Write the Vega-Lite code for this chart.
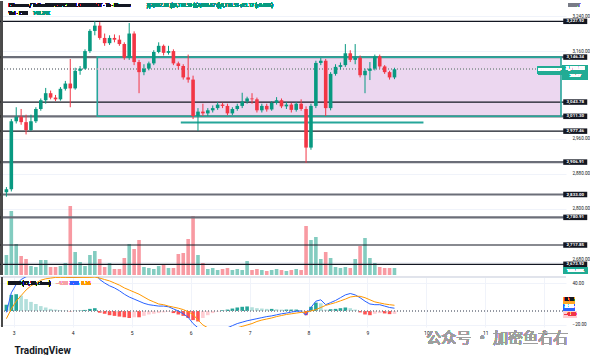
{
"$schema":"https://vega.github.io/schema/vega-lite/v6.json",
"padding":{"left":-6,"top":0,"right":0,"bottom":0},
"background":"white",
"config":{"font":"Roboto, 'Noto Sans CJK SC', sans-serif","view":{"stroke":null}},
"datasets":{
"bars":[
{"t":-3,"o":2838,"h":2850,"l":2828,"c":2845,"v":402,"m":-2,"s":-11,"hg":9},
{"t":-1,"o":2845,"h":3005,"l":2840,"c":3000,"v":1286,"m":26,"s":3,"hg":23},
{"t":1,"o":3000,"h":3032,"l":2995,"c":3010,"v":623,"m":38,"s":14,"hg":24},
{"t":3,"o":3010,"h":3028,"l":2992,"c":2998,"v":382,"m":45,"s":22,"hg":22},
{"t":5,"o":2998,"h":3015,"l":2970,"c":2980,"v":322,"m":49,"s":30,"hg":17},
{"t":7,"o":2980,"h":3015,"l":2978,"c":3000,"v":181,"m":51,"s":36,"hg":13},
{"t":9,"o":3000,"h":3032,"l":2996,"c":3028,"v":161,"m":52,"s":40,"hg":10},
{"t":11,"o":3028,"h":3052,"l":3024,"c":3048,"v":302,"m":53,"s":44,"hg":7},
{"t":13,"o":3048,"h":3076,"l":3040,"c":3064,"v":302,"m":53,"s":46,"hg":5},
{"t":15,"o":3064,"h":3070,"l":3050,"c":3054,"v":161,"m":52,"s":47,"hg":3},
{"t":17,"o":3054,"h":3060,"l":3046,"c":3050,"v":161,"m":51,"s":48,"hg":2},
{"t":19,"o":3050,"h":3078,"l":3047,"c":3074,"v":181,"m":50,"s":48,"hg":1},
{"t":21,"o":3074,"h":3092,"l":3070,"c":3086,"v":241,"m":49,"s":48,"hg":0.5},
{"t":23,"o":3086,"h":3142,"l":3032,"c":3075,"v":1387,"m":48,"s":48,"hg":-0.5},
{"t":25,"o":3075,"h":3122,"l":3072,"c":3115,"v":462,"m":48,"s":48,"hg":0.3},
{"t":27,"o":3115,"h":3126,"l":3106,"c":3120,"v":261,"m":48.5,"s":48,"hg":0.6},
{"t":29,"o":3120,"h":3164,"l":3118,"c":3160,"v":181,"m":50,"s":48,"hg":1.5},
{"t":31,"o":3160,"h":3210,"l":3156,"c":3206,"v":402,"m":53,"s":48,"hg":3},
{"t":33,"o":3206,"h":3228,"l":3196,"c":3218,"v":482,"m":55,"s":48.5,"hg":4},
{"t":35,"o":3218,"h":3226,"l":3186,"c":3190,"v":322,"m":45,"s":47,"hg":-2.5},
{"t":37,"o":3190,"h":3200,"l":3172,"c":3178,"v":161,"m":40,"s":45,"hg":-4},
{"t":39,"o":3178,"h":3196,"l":3174,"c":3190,"v":241,"m":36,"s":43,"hg":-6},
{"t":41,"o":3190,"h":3198,"l":3180,"c":3186,"v":121,"m":33,"s":40,"hg":-7},
{"t":43,"o":3186,"h":3196,"l":3172,"c":3176,"v":121,"m":29,"s":37,"hg":-8},
{"t":45,"o":3176,"h":3180,"l":3140,"c":3145,"v":342,"m":24,"s":33,"hg":-9},
{"t":47,"o":3145,"h":3224,"l":3140,"c":3200,"v":623,"m":20,"s":30,"hg":-10},
{"t":49,"o":3200,"h":3205,"l":3128,"c":3135,"v":523,"m":17,"s":27,"hg":-9},
{"t":51,"o":3135,"h":3140,"l":3064,"c":3112,"v":704,"m":14,"s":24,"hg":-9},
{"t":53,"o":3112,"h":3130,"l":3105,"c":3120,"v":161,"m":11,"s":20,"hg":-7},
{"t":55,"o":3120,"h":3136,"l":3116,"c":3132,"v":141,"m":9,"s":16,"hg":-5},
{"t":57,"o":3132,"h":3162,"l":3128,"c":3158,"v":121,"m":8,"s":13,"hg":-4},
{"t":59,"o":3158,"h":3180,"l":3155,"c":3172,"v":181,"m":7,"s":10,"hg":-3},
{"t":61,"o":3172,"h":3175,"l":3150,"c":3156,"v":201,"m":7,"s":9,"hg":-2},
{"t":63,"o":3156,"h":3172,"l":3152,"c":3160,"v":141,"m":6,"s":7,"hg":-1},
{"t":65,"o":3160,"h":3164,"l":3128,"c":3132,"v":141,"m":3,"s":5.5,"hg":-3},
{"t":67,"o":3132,"h":3136,"l":3118,"c":3126,"v":422,"m":0,"s":4,"hg":-5},
{"t":69,"o":3126,"h":3130,"l":3095,"c":3100,"v":442,"m":-4,"s":2,"hg":-7},
{"t":71,"o":3100,"h":3152,"l":3088,"c":3095,"v":724,"m":-9,"s":-1,"hg":-10},
{"t":73,"o":3095,"h":3104,"l":3005,"c":3012,"v":1186,"m":-18,"s":-5,"hg":-13},
{"t":75,"o":3012,"h":3030,"l":2978,"c":3022,"v":402,"m":-24,"s":-13,"hg":-15},
{"t":77,"o":3022,"h":3040,"l":3012,"c":3018,"v":241,"m":-27,"s":-20,"hg":-10},
{"t":79,"o":3018,"h":3030,"l":3012,"c":3025,"v":121,"m":-28,"s":-24,"hg":-6},
{"t":81,"o":3025,"h":3036,"l":3020,"c":3030,"v":141,"m":-28,"s":-26,"hg":-3},
{"t":83,"o":3030,"h":3044,"l":3026,"c":3038,"v":100,"m":-27,"s":-27,"hg":-1},
{"t":85,"o":3038,"h":3042,"l":3030,"c":3035,"v":121,"m":-26,"s":-27,"hg":1},
{"t":87,"o":3035,"h":3040,"l":3014,"c":3018,"v":141,"m":-24,"s":-26,"hg":2},
{"t":89,"o":3018,"h":3032,"l":3014,"c":3028,"v":100,"m":-21,"s":-25,"hg":3.5},
{"t":91,"o":3028,"h":3040,"l":3024,"c":3035,"v":121,"m":-18,"s":-24,"hg":5},
{"t":93,"o":3035,"h":3065,"l":3030,"c":3045,"v":100,"m":-16,"s":-22,"hg":6},
{"t":95,"o":3045,"h":3056,"l":3040,"c":3052,"v":281,"m":-14,"s":-20,"hg":6.5},
{"t":97,"o":3052,"h":3064,"l":3040,"c":3050,"v":100,"m":-12.5,"s":-18,"hg":5.5},
{"t":99,"o":3050,"h":3054,"l":3020,"c":3025,"v":121,"m":-11,"s":-15,"hg":4},
{"t":101,"o":3025,"h":3040,"l":3020,"c":3035,"v":100,"m":-9.5,"s":-13,"hg":3.5},
{"t":103,"o":3035,"h":3040,"l":3022,"c":3027,"v":80,"m":-8,"s":-11.5,"hg":3},
{"t":105,"o":3027,"h":3046,"l":3024,"c":3042,"v":100,"m":-7,"s":-10,"hg":3},
{"t":107,"o":3042,"h":3055,"l":3038,"c":3048,"v":121,"m":-5.5,"s":-8,"hg":2.5},
{"t":109,"o":3048,"h":3052,"l":3030,"c":3034,"v":100,"m":-4,"s":-6.5,"hg":2},
{"t":111,"o":3034,"h":3044,"l":3028,"c":3038,"v":80,"m":-3,"s":-5,"hg":2},
{"t":113,"o":3038,"h":3042,"l":3020,"c":3026,"v":100,"m":-1.5,"s":-4,"hg":2},
{"t":115,"o":3026,"h":3044,"l":3022,"c":3040,"v":121,"m":-0.5,"s":-3,"hg":2},
{"t":117,"o":3040,"h":3050,"l":3024,"c":3028,"v":100,"m":0,"s":-2,"hg":1},
{"t":119,"o":3028,"h":3034,"l":2905,"c":2940,"v":985,"m":-6,"s":-1.5,"hg":-6},
{"t":121,"o":2940,"h":3040,"l":2935,"c":3035,"v":704,"m":5,"s":0,"hg":6},
{"t":123,"o":3035,"h":3138,"l":3030,"c":3133,"v":764,"m":14,"s":2,"hg":12},
{"t":125,"o":3133,"h":3144,"l":3128,"c":3138,"v":322,"m":16,"s":5,"hg":11},
{"t":127,"o":3138,"h":3142,"l":3012,"c":3030,"v":462,"m":9,"s":8,"hg":2},
{"t":129,"o":3030,"h":3112,"l":3025,"c":3108,"v":342,"m":12,"s":10,"hg":2.5},
{"t":131,"o":3108,"h":3130,"l":3104,"c":3124,"v":161,"m":15,"s":12,"hg":3},
{"t":133,"o":3124,"h":3134,"l":3118,"c":3128,"v":141,"m":19,"s":14.5,"hg":4},
{"t":135,"o":3128,"h":3176,"l":3124,"c":3155,"v":161,"m":23,"s":17,"hg":5},
{"t":137,"o":3155,"h":3162,"l":3135,"c":3140,"v":141,"m":25,"s":20,"hg":4},
{"t":139,"o":3140,"h":3176,"l":3130,"c":3145,"v":322,"m":23,"s":21,"hg":2},
{"t":141,"o":3145,"h":3150,"l":3100,"c":3105,"v":583,"m":19,"s":21,"hg":-2},
{"t":143,"o":3105,"h":3120,"l":3064,"c":3115,"v":744,"m":14,"s":19,"hg":-5},
{"t":145,"o":3115,"h":3135,"l":3094,"c":3120,"v":342,"m":10,"s":16,"hg":-6},
{"t":147,"o":3120,"h":3152,"l":3116,"c":3148,"v":241,"m":9,"s":13,"hg":-4},
{"t":149,"o":3148,"h":3152,"l":3120,"c":3125,"v":161,"m":9,"s":11.5,"hg":-3},
{"t":151,"o":3125,"h":3128,"l":3108,"c":3112,"v":141,"m":7,"s":10,"hg":-3.5},
{"t":153,"o":3112,"h":3115,"l":3095,"c":3100,"v":141,"m":5,"s":9,"hg":-4.5},
{"t":155,"o":3100,"h":3122,"l":3096,"c":3118.55,"v":140.34,"m":3.96,"s":8.16,"hg":-4.2}
],
"levels":[{"p":3227.92},{"p":3146.34},{"p":3043.78},{"p":3011.30},{"p":2977.46},{"p":2906.91},{"p":2833.00},{"p":2780.91},{"p":2717.85},{"p":2673.92}],
"zone":[{"t0":34,"t1":222.8,"p0":3146.34,"p1":3011.30}],
"ray":[{"t0":68,"t1":166.8,"p":2997}]
},
"data":{"name":"bars"},
"spacing":0,
"resolve":{"scale":{"x":"shared","y":"independent"}},
"vconcat":[
{
"width":570,"height":274,
"resolve":{"scale":{"y":"independent"},"axis":{"y":"independent"}},
"layer":[
{"layer":[
 {"mark":{"type":"bar","width":3.6,"opacity":0.5},
  "encoding":{
   "x":{"field":"t","type":"quantitative","title":null,"scale":{"domain":[-5.2,222.8],"nice":false,"zero":false},"axis":null},
   "y":{"field":"v","type":"quantitative","title":null,"scale":{"domain":[0,5507],"nice":false,"zero":true},"axis":null},
   "color":{"condition":{"test":"datum.c >= datum.o","value":"#089981"},"value":"#f23645"}}},
 {"mark":{"type":"tick","orient":"horizontal","size":24,"thickness":5.5,"color":"#22ab94","opacity":1},
  "encoding":{"x":{"datum":228.6,"axis":null},"y":{"datum":88,"axis":null}}},
 {"mark":{"type":"text","color":"white","fontSize":4.4,"fontWeight":"bold","align":"center","baseline":"middle"},
  "encoding":{"x":{"datum":228.6,"axis":null},"y":{"datum":88,"axis":null},"text":{"value":"140.34K"}}}
]},
{"layer":[
 {"data":{"name":"zone"},"mark":{"type":"rect","fill":"#e1bee7","fillOpacity":0.62},
  "encoding":{
   "x":{"field":"t0","type":"quantitative","title":null,"scale":{"domain":[-5.2,222.8],"nice":false,"zero":false},
        "axis":{"orient":"bottom","title":null,"labels":false,"ticks":false,"domain":false,"grid":true,"gridColor":"#f0f3fa","values":[0,12,24,36,48,60,72,84,96,108,120,132,144,156,168,180,192,204,216],"minExtent":0,"maxExtent":0,"zindex":0}},
   "x2":{"field":"t1"},
   "y":{"field":"p0","type":"quantitative","title":null,"scale":{"domain":[2649.5,3274.2],"nice":false,"zero":false},
        "axis":{"orient":"right","title":null,"values":[3240,3200,3160,3080,2960,2920,2880,2840,2800,2760,2680],"format":",.2f","labelFontSize":4.6,"labelColor":"#131722","labelPadding":6,"labelOffset":{"condition":{"test":"datum.value == 2680 || datum.value == 2840","value":-2},"value":0},"ticks":false,"domain":false,"grid":true,"gridColor":"#f0f3fa","zindex":0}},
   "y2":{"field":"p1"}}},
 {"data":{"name":"levels"},"transform":[{"filter":{"field":"p","oneOf":[3146.34,3011.3,2906.91,2833,2780.91]}}],
  "mark":{"type":"rule","color":"#6b6e78","strokeWidth":2.2},
  "encoding":{"y":{"field":"p","type":"quantitative","title":null}}},
 {"data":{"name":"levels"},"transform":[{"filter":{"not":{"field":"p","oneOf":[3146.34,3011.3,2906.91,2833,2780.91]}}}],
  "mark":{"type":"rule","color":"#131722","strokeWidth":1.2},
  "encoding":{"y":{"field":"p","type":"quantitative","title":null}}},
 {"data":{"name":"zone"},"mark":{"type":"rect","fillOpacity":0,"stroke":"#26a69a","strokeWidth":1.6},
  "encoding":{"x":{"field":"t0","type":"quantitative","title":null},"x2":{"field":"t1"},"y":{"field":"p0","type":"quantitative","title":null},"y2":{"field":"p1"}}},
 {"data":{"name":"ray"},"mark":{"type":"rule","color":"#26a69a","strokeWidth":2},
  "encoding":{"x":{"field":"t0","type":"quantitative","title":null},"x2":{"field":"t1"},"y":{"field":"p","type":"quantitative","title":null}}},
 {"mark":{"type":"rule","color":"#9aa0a6","strokeDash":[1,2],"strokeWidth":1},"encoding":{"y":{"datum":3118.55}}},
 {"mark":{"type":"rule","strokeWidth":1},
  "encoding":{"x":{"field":"t","type":"quantitative","title":null},"y":{"field":"l","type":"quantitative","title":null},"y2":{"field":"h"},
   "color":{"condition":{"test":"datum.c >= datum.o","value":"#089981"},"value":"#f23645"}}},
 {"mark":{"type":"bar","width":3.6},
  "encoding":{"x":{"field":"t","type":"quantitative","title":null},"y":{"field":"o","type":"quantitative","title":null},"y2":{"field":"c"},
   "color":{"condition":{"test":"datum.c >= datum.o","value":"#089981"},"value":"#f23645"}}},
 {"mark":{"type":"text","align":"left","baseline":"middle","fontSize":4.6,"color":"#131722"},
  "encoding":{"x":{"datum":-2},"y":{"datum":3262.8},"text":{"value":"Ethereum / TetherUS PERPETUAL CONTRACT · 1h · Binance"}}},
 {"mark":{"type":"text","align":"left","baseline":"middle","fontSize":4.6,"color":"#089981"},
  "encoding":{"x":{"datum":54},"y":{"datum":3262.8},"text":{"value":"开3,097.38 高3,119.59 低3,088.67 收3,118.55 +21.17 (+0.68%)"}}},
 {"mark":{"type":"text","align":"left","baseline":"middle","fontSize":4.6,"color":"#131722"},
  "encoding":{"x":{"datum":-2},"y":{"datum":3245.2},"text":{"value":"Vol · ETH"}}},
 {"mark":{"type":"text","align":"left","baseline":"middle","fontSize":4.6,"color":"#089981"},
  "encoding":{"x":{"datum":7.8},"y":{"datum":3245.2},"text":{"value":"140.34K"}}},
 {"mark":{"type":"text","align":"center","baseline":"middle","fontSize":4.6,"color":"#787b86"},
  "encoding":{"x":{"datum":228.2},"y":{"datum":3262.8},"text":{"value":"USDT"}}},
 {"data":{"name":"levels"},"mark":{"type":"tick","orient":"horizontal","size":24,"thickness":5.5,"color":"#131722","opacity":1},
  "encoding":{"x":{"datum":228.6},"y":{"field":"p","type":"quantitative","title":null}}},
 {"data":{"name":"levels"},"mark":{"type":"text","color":"white","fontSize":4.4,"fontWeight":"bold","align":"center","baseline":"middle"},
  "encoding":{"x":{"datum":228.6},"y":{"field":"p","type":"quantitative","title":null},"text":{"field":"p","type":"quantitative","format":",.2f"}}},
 {"mark":{"type":"tick","orient":"horizontal","size":24,"thickness":8,"color":"#22ab94","opacity":1},
  "encoding":{"x":{"datum":218.3},"y":{"datum":3116}}},
 {"mark":{"type":"text","color":"white","fontSize":4.4,"fontWeight":"bold","align":"center","baseline":"middle"},
  "encoding":{"x":{"datum":218.3},"y":{"datum":3116},"text":{"value":"ETHUSDT.P"}}},
 {"mark":{"type":"tick","orient":"horizontal","size":25,"thickness":14,"color":"#22ab94","opacity":1},
  "encoding":{"x":{"datum":228.6},"y":{"datum":3111}}},
 {"mark":{"type":"text","color":"white","fontSize":4.6,"fontWeight":"bold","align":"center","baseline":"middle"},
  "encoding":{"x":{"datum":228.6},"y":{"datum":3118.5},"text":{"value":"3,118.55"}}},
 {"mark":{"type":"text","color":"white","fontSize":4.4,"align":"center","baseline":"middle"},
  "encoding":{"x":{"datum":228.6},"y":{"datum":3103.5},"text":{"value":"20:47"}}},
 {"mark":{"type":"rule","color":"#4a4a4a","strokeWidth":2},"encoding":{"x":{"datum":-4.8}}}
]}
]
},
{
"width":570,"height":50,
"layer":[
 {"transform":[{"window":[{"op":"lag","field":"hg","as":"prev"}],"sort":[{"field":"t"}]},
   {"calculate":"datum.hg >= 0 ? ((datum.prev == null || datum.hg >= datum.prev) ? 'pu' : 'pd') : ((datum.prev == null || datum.hg <= datum.prev) ? 'nd' : 'nu')","as":"state"}],
  "mark":{"type":"bar","width":3.6},
  "encoding":{
   "x":{"field":"t","type":"quantitative","scale":{"domain":[-5.2,222.8],"nice":false,"zero":false},
        "axis":{"orient":"bottom","values":[0,12,24,36,48,60,72,84,96,108,120,132,144,156,168,180,192,204,216],"labelExpr":"datum.value % 24 == 0 ? '' + (3 + datum.value / 24) : '12:00'","labelFontSize":5,"labelColor":"#131722","labelPadding":3,"labelOverlap":false,"labelFlush":false,"ticks":false,"domain":false,"grid":true,"gridColor":"#f0f3fa","zindex":0,
                "title":"TradingView","titleAnchor":"start","titleAlign":"left","titleX":18,"titleFontSize":10,"titleFontWeight":"bold","titleColor":"#131722","titlePadding":10}},
   "y":{"field":"hg","type":"quantitative","scale":{"domain":[-22.9,48.6],"nice":false,"zero":false},
        "axis":{"orient":"right","title":null,"values":[40,-20],"format":",.2f","labelFontSize":4.6,"labelColor":"#131722","labelPadding":6,"ticks":false,"domain":false,"grid":true,"gridColor":"#f0f3fa","zindex":0}},
   "color":{"field":"state","type":"nominal","scale":{"domain":["pu","pd","nd","nu"],"range":["#26a69a","#b2dfdb","#ff5252","#ffcdd2"]},"legend":null}}},
 {"mark":{"type":"rule","color":"#9598a1","strokeDash":[1,2],"strokeWidth":1},"encoding":{"y":{"datum":0}}},
 {"mark":{"type":"rule","color":"#e0e3eb","strokeWidth":1},"encoding":{"y":{"datum":48.6}}},
 {"mark":{"type":"rule","color":"#4a4a4a","strokeWidth":2},"encoding":{"x":{"datum":-4.8}}},
 {"mark":{"type":"line","color":"#2962ff","strokeWidth":1,"clip":true},
  "encoding":{"x":{"field":"t","type":"quantitative"},"y":{"field":"m","type":"quantitative"}}},
 {"mark":{"type":"line","color":"#ff9800","strokeWidth":1,"clip":true},
  "encoding":{"x":{"field":"t","type":"quantitative"},"y":{"field":"s","type":"quantitative"}}},
 {"mark":{"type":"text","align":"left","baseline":"middle","fontSize":4.6,"color":"#131722"},
  "encoding":{"x":{"datum":-2.4},"y":{"datum":38.6},"text":{"value":"MACD (12, 26, close)"}}},
 {"mark":{"type":"text","align":"left","baseline":"middle","fontSize":4.6,"color":"#f7a1a8"},
  "encoding":{"x":{"datum":17.2},"y":{"datum":38.6},"text":{"value":"−4.20"}}},
 {"mark":{"type":"text","align":"left","baseline":"middle","fontSize":4.6,"color":"#2962ff"},
  "encoding":{"x":{"datum":22.8},"y":{"datum":38.6},"text":{"value":"3.96"}}},
 {"mark":{"type":"text","align":"left","baseline":"middle","fontSize":4.6,"color":"#ff9800"},
  "encoding":{"x":{"datum":27.6},"y":{"datum":38.6},"text":{"value":"8.16"}}},
 {"mark":{"type":"tick","orient":"horizontal","size":11,"thickness":6,"color":"#ffa726","opacity":1},
  "encoding":{"x":{"datum":226.2},"y":{"datum":15}}},
 {"mark":{"type":"text","align":"center","baseline":"middle","fontSize":4.6,"color":"#131722"},
  "encoding":{"x":{"datum":226.2},"y":{"datum":15},"text":{"value":"8.16"}}},
 {"mark":{"type":"tick","orient":"horizontal","size":11,"thickness":6,"color":"#2962ff","opacity":1},
  "encoding":{"x":{"datum":226.2},"y":{"datum":5}}},
 {"mark":{"type":"text","align":"center","baseline":"middle","fontSize":4.6,"color":"white"},
  "encoding":{"x":{"datum":226.2},"y":{"datum":5},"text":{"value":"3.96"}}},
 {"mark":{"type":"tick","orient":"horizontal","size":13,"thickness":6,"color":"#ffcdd2","opacity":1},
  "encoding":{"x":{"datum":226.6},"y":{"datum":-5.3}}},
 {"mark":{"type":"text","align":"center","baseline":"middle","fontSize":4.6,"color":"#f23645"},
  "encoding":{"x":{"datum":226.6},"y":{"datum":-5.3},"text":{"value":"−4.20"}}},
 {"mark":{"type":"text","align":"center","baseline":"middle","fontSize":15,"color":"#9e9e9e","opacity":0.9,"font":"Noto Sans CJK SC"},
  "encoding":{"x":{"datum":196.8},"y":{"datum":-38.5},"text":{"value":"公众号 · 加密鱼右右"}}}
]
}
]
}
